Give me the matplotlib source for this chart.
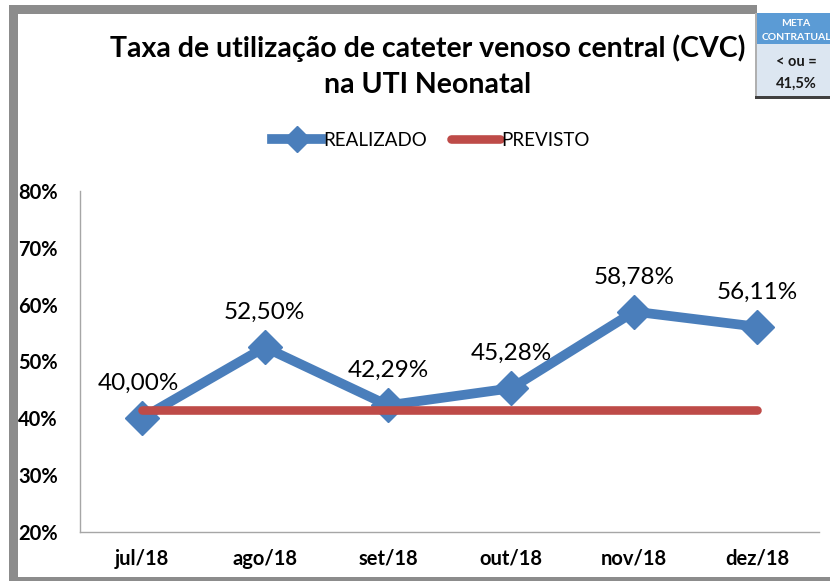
import matplotlib
matplotlib.use("Agg")
import matplotlib.pyplot as plt
from matplotlib.patches import Rectangle
from matplotlib.ticker import FuncFormatter

plt.rcParams['font.family'] = ['Lato', 'DejaVu Sans']

categories = ["jul/18", "ago/18", "set/18", "out/18", "nov/18", "dez/18"]
realizado = [40.00, 52.50, 42.29, 45.28, 58.78, 56.11]
previsto = [41.5, 41.5, 41.5, 41.5, 41.5, 41.5]
labels = ["40,00%", "52,50%", "42,29%", "45,28%", "58,78%", "56,11%"]
label_dx = [-2, 0, 0, 0, 0, 0]

W, H = 830, 581
fig = plt.figure(figsize=(W / 100, H / 100), dpi=100)

def fx(px):
    return px / W

def fy(py):
    return 1 - py / H

# outer gray frame
gray = "#8c8c8c"
fig.patches.append(Rectangle((fx(9), fy(581)), fx(9), (581 - 5) / H, transform=fig.transFigure,
                             facecolor=gray, edgecolor="none"))
fig.patches.append(Rectangle((fx(9), fy(14)), (757 - 9) / W, 9 / H, transform=fig.transFigure,
                             facecolor=gray, edgecolor="none"))
fig.patches.append(Rectangle((fx(9), 0), 1, 4 / H, transform=fig.transFigure,
                             facecolor=gray, edgecolor="none"))

# meta box
fig.patches.append(Rectangle((fx(757), fy(44)), 1, 31 / H, transform=fig.transFigure,
                             facecolor="#5b9bd5", edgecolor="none"))
fig.patches.append(Rectangle((fx(757), fy(96)), 1, 52 / H, transform=fig.transFigure,
                             facecolor="#dce6f1", edgecolor="none"))
fig.patches.append(Rectangle((fx(755), fy(97)), 2 / W, 84 / H, transform=fig.transFigure,
                             facecolor="#b0b0b0", edgecolor="none"))
fig.patches.append(Rectangle((fx(755), fy(99)), 1, 3 / H, transform=fig.transFigure,
                             facecolor="#404040", edgecolor="none"))
fig.text(fx(796), fy(23), "META", ha="center", va="center", fontsize=7.5,
         fontweight="bold", color="white")
fig.text(fx(796), fy(37), "CONTRATUAL", ha="center", va="center", fontsize=7.5,
         fontweight="bold", color="white")
fig.text(fx(796), fy(62), "< ou =", ha="center", va="center", fontsize=10.5,
         fontweight="bold", color="#1a1a1a")
fig.text(fx(796), fy(84), "41,5%", ha="center", va="center", fontsize=10.5,
         fontweight="bold", color="#1a1a1a")

# title
fig.text(fx(428), fy(48), "Taxa de utilização de cateter venoso central (CVC)",
         ha="center", va="center", fontsize=20.5, fontweight="bold", color="black")
fig.text(fx(428), fy(85), "na UTI Neonatal",
         ha="center", va="center", fontsize=20.5, fontweight="bold", color="black")

ax = fig.add_axes([fx(80), fy(532), (819 - 80) / W, (532 - 191) / H])
x = list(range(len(categories)))
blue = "#4a7ebb"
red = "#be4b48"
ax.plot(x, previsto, color=red, lw=6.2, solid_capstyle="round", zorder=3, label="PREVISTO")
ax.plot(x, realizado, color=blue, lw=7, marker="D", markersize=17, solid_joinstyle="round",
        zorder=2, label="REALIZADO")
for i, (v, t) in enumerate(zip(realizado, labels)):
    ax.annotate(t, (i, v), xytext=(label_dx[i], 25), textcoords="offset points",
                ha="center", va="center", fontsize=17.5, color="black")

ax.set_xlim(-0.5, len(categories) - 0.5)
ax.set_ylim(20, 80)
ax.set_yticks([20, 30, 40, 50, 60, 70, 80])
ax.yaxis.set_major_formatter(FuncFormatter(lambda v, p: f"{int(v)}%"))
ax.set_xticks(x)
ax.set_xticklabels(categories)
ax.tick_params(axis="y", length=0, labelsize=14.5, pad=16)
ax.tick_params(axis="x", length=0, labelsize=14.5, pad=12)
for lbl in ax.get_xticklabels() + ax.get_yticklabels():
    lbl.set_fontweight("bold")
for s in ["top", "right"]:
    ax.spines[s].set_visible(False)
for s in ["left", "bottom"]:
    ax.spines[s].set_color("#a6a6a6")
    ax.spines[s].set_linewidth(1)

handles, lbls = ax.get_legend_handles_labels()
leg = fig.legend([handles[1], handles[0]], [lbls[1], lbls[0]], loc="center",
                 bbox_to_anchor=(fx(431), fy(140)), ncol=2, frameon=False,
                 fontsize=13.5, handlelength=2.6, columnspacing=1.3, handletextpad=0.1,
                 markerscale=0.8)

fig.savefig("out.png", dpi=100)
